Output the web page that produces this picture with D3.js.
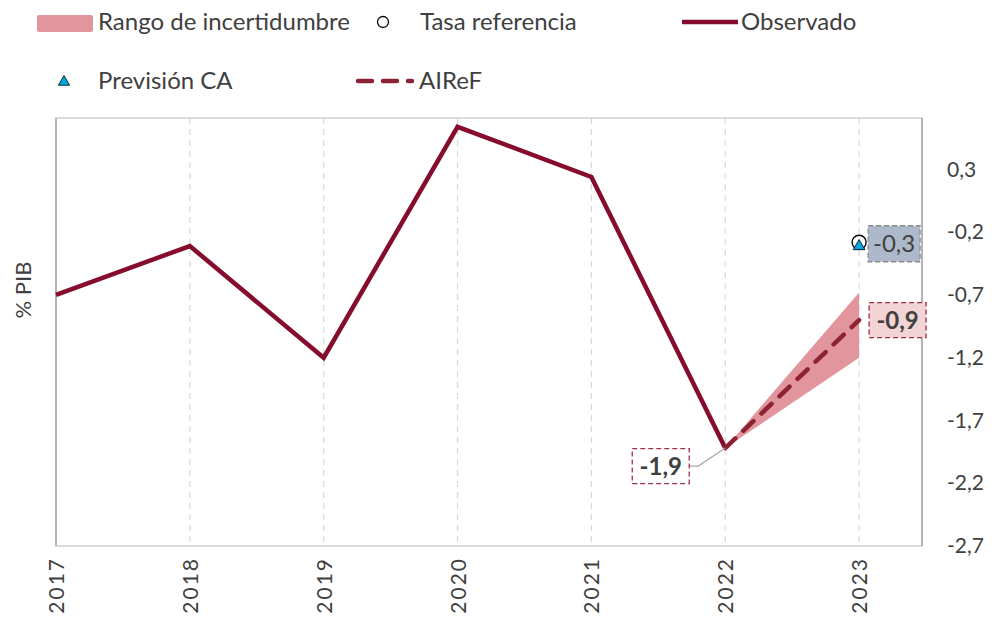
<!DOCTYPE html>
<html>
<head>
<meta charset="utf-8">
<script src="https://cdn.jsdelivr.net/npm/d3@7"></script>
<style>
  body { margin: 0; background: #fff; }
  text { font-family: Lato, 'Open Sans', sans-serif; fill: #404040; }
</style>
</head>
<body>
<div id="chart"></div>
<script>
const years = [2017, 2018, 2019, 2020, 2021, 2022, 2023]
const observado = [-0.7, -0.31, -1.2, 0.64, 0.24, -1.92]
const airefYears = [2022, 2023]
const aireF = [-1.92, -0.9]
const bandLow = [-1.92, -1.2]
const bandHigh = [-1.92, -0.68]
const tasaRef = -0.28
const prevCA = -0.3
const yTicks = [-2.7, -2.2, -1.7, -1.2, -0.7, -0.2, 0.3]
const labels = [
  { year: 2022, value: -1.92, text: '-1,9' },
  { year: 2023, value: -0.9, text: '-0,9' },
  { year: 2023, value: -0.3, text: '-0,3' }
]

const width = 992
const height = 617
const margin = { left: 56, right: 70, top: 118, bottom: 71 }
const fmt = v => d3.format('.1f')(v).replace('.', ',').replace('−', '-')

const svg = d3.select('#chart').append('svg')
  .attr('width', width)
  .attr('height', height)

const x = d3.scaleLinear().domain([2017, 2023.47]).range([margin.left, width - margin.right])
const y = d3.scaleLinear().domain([-2.7, 0.71]).range([height - margin.bottom, margin.top])

// grid lines
svg.append('g')
  .selectAll('line')
  .data(years.slice(1))
  .enter().append('line')
  .attr('x1', d => x(d)).attr('x2', d => x(d))
  .attr('y1', y.range()[1]).attr('y2', y.range()[0])
  .attr('stroke', '#d9d9d9')
  .attr('stroke-width', 1.2)
  .attr('stroke-dasharray', '6,5')

// frame
svg.append('rect')
  .attr('x', x.range()[0]).attr('y', y.range()[1])
  .attr('width', x.range()[1] - x.range()[0])
  .attr('height', y.range()[0] - y.range()[1])
  .attr('fill', 'none')
  .attr('stroke', '#c8c8c8')
  .attr('stroke-width', 1.3)
svg.append('line')
  .attr('x1', x.range()[0]).attr('x2', x.range()[0])
  .attr('y1', y.range()[1]).attr('y2', y.range()[0])
  .attr('stroke', '#a6a6a6').attr('stroke-width', 1.5)
svg.append('line')
  .attr('x1', x.range()[1]).attr('x2', x.range()[1])
  .attr('y1', y.range()[1]).attr('y2', y.range()[0])
  .attr('stroke', '#a6a6a6').attr('stroke-width', 1.5)

// right axis labels
const yAxis = svg.append('g')
  .attr('transform', `translate(${x.range()[1]},0)`)
  .call(d3.axisRight(y).tickValues(yTicks).tickSize(0).tickPadding(25).tickFormat(fmt))
yAxis.select('.domain').remove()
yAxis.selectAll('text')
  .style('font-size', '21px')
  .attr('fill', '#404040')

// x axis labels, rotated
svg.append('g')
  .selectAll('text')
  .data(years)
  .enter().append('text')
  .attr('transform', d => `translate(${x(d) + 8},${y.range()[0] + 11}) rotate(-90)`)
  .attr('text-anchor', 'end')
  .style('font-size', '21px')
  .style('letter-spacing', '2px')
  .text(d => d)

// y title
svg.append('text')
  .attr('transform', 'translate(31,290) rotate(-90)')
  .attr('text-anchor', 'middle')
  .style('font-size', '22px')
  .text('% PIB')

// uncertainty band
const area = d3.area()
  .x((d, i) => x(airefYears[i]))
  .y0((d, i) => y(bandLow[i]))
  .y1((d, i) => y(bandHigh[i]))
svg.append('path')
  .datum(airefYears)
  .attr('d', area)
  .attr('fill', '#e3959e')

// observed line
const line = d3.line()
  .x((d, i) => x(years[i]))
  .y(d => y(d))
svg.append('path')
  .datum(observado)
  .attr('d', line)
  .attr('fill', 'none')
  .attr('stroke', '#850c2d')
  .attr('stroke-width', 4.5)
  .attr('stroke-linejoin', 'miter')

// AIReF dashed
svg.append('path')
  .datum(aireF)
  .attr('d', d3.line().x((d, i) => x(airefYears[i])).y(d => y(d)))
  .attr('fill', 'none')
  .attr('stroke', '#8c2233')
  .attr('stroke-width', 4.5)
  .attr('stroke-dasharray', '14,11')
  .attr('stroke-linecap', 'round')

// markers 2023
svg.append('circle')
  .attr('cx', x(2023)).attr('cy', y(tasaRef))
  .attr('r', 7)
  .attr('fill', '#fff')
  .attr('stroke', '#000')
  .attr('stroke-width', 1.4)
const tri = d3.symbol().type(d3.symbolTriangle).size(60)
svg.append('path')
  .attr('d', tri)
  .attr('transform', `translate(${x(2023)},${y(prevCA) + 1.5})`)
  .attr('fill', '#00a6e4')
  .attr('stroke', '#000')
  .attr('stroke-width', 0.8)

// data labels
const boxStyle = [
  { dx: -93, dy: -4, w: 57, h: 35, fill: '#fff', stroke: '#a32f44', bold: true },
  { dx: 10, dy: 0, w: 57, h: 35, fill: '#f2d3d6', stroke: '#a32f44', bold: true },
  { dx: 9, dy: -1, w: 52, h: 36, fill: '#adb9ca', stroke: '#8c8c8c', bold: false }
]
labels.forEach((d, i) => {
  const s = boxStyle[i]
  const cx = x(d.year) + s.dx + s.w / 2
  const cy = y(d.value) + s.dy + (i === 0 ? 22 : 0)
  if (i === 0) {
    svg.append('polyline')
      .attr('points', `${cx + s.w / 2},${cy} ${cx + s.w / 2 + 9},${cy} ${x(d.year)},${y(d.value)}`)
      .attr('fill', 'none')
      .attr('stroke', '#a6a6a6')
      .attr('stroke-width', 1.2)
  }
  svg.append('rect')
    .attr('x', cx - s.w / 2).attr('y', cy - s.h / 2)
    .attr('width', s.w).attr('height', s.h)
    .attr('fill', s.fill)
    .attr('stroke', s.stroke)
    .attr('stroke-width', 1.3)
    .attr('stroke-dasharray', '5,3')
  svg.append('text')
    .attr('x', cx).attr('y', cy)
    .attr('dy', '0.36em')
    .attr('text-anchor', 'middle')
    .style('font-size', '24px')
    .style('font-weight', s.bold ? 'bold' : 'normal')
    .text(d.text)
})

// legend
const fs = '24px'
const leg = svg.append('g')
leg.append('rect').attr('x', 37).attr('y', 15).attr('width', 56).attr('height', 17).attr('rx', 2).attr('fill', '#e3959e')
leg.append('text').attr('x', 98).attr('y', 21).attr('dy', '0.36em').style('font-size', fs).text('Rango de incertidumbre')
leg.append('circle').attr('cx', 383).attr('cy', 22).attr('r', 5.5).attr('fill', '#fff').attr('stroke', '#000').attr('stroke-width', 1.3)
leg.append('text').attr('x', 420).attr('y', 21).attr('dy', '0.36em').style('font-size', fs).text('Tasa referencia')
leg.append('line').attr('x1', 682).attr('x2', 738).attr('y1', 22).attr('y2', 22).attr('stroke', '#850c2d').attr('stroke-width', 4.5)
leg.append('text').attr('x', 741).attr('y', 21).attr('dy', '0.36em').style('font-size', fs).text('Observado')
leg.append('path').attr('d', d3.symbol().type(d3.symbolTriangle).size(55)).attr('transform', 'translate(64,82)')
  .attr('fill', '#00a6e4').attr('stroke', '#000').attr('stroke-width', 0.8)
leg.append('text').attr('x', 98).attr('y', 80).attr('dy', '0.36em').style('font-size', fs).text('Previsión CA')
leg.append('line').attr('x1', 358).attr('x2', 412).attr('y1', 81).attr('y2', 81)
  .attr('stroke', '#8c2233').attr('stroke-width', 4.5).attr('stroke-dasharray', '14,11').attr('stroke-linecap', 'round')
leg.append('text').attr('x', 419).attr('y', 80).attr('dy', '0.36em').style('font-size', fs).text('AIReF')
</script>
</body>
</html>
